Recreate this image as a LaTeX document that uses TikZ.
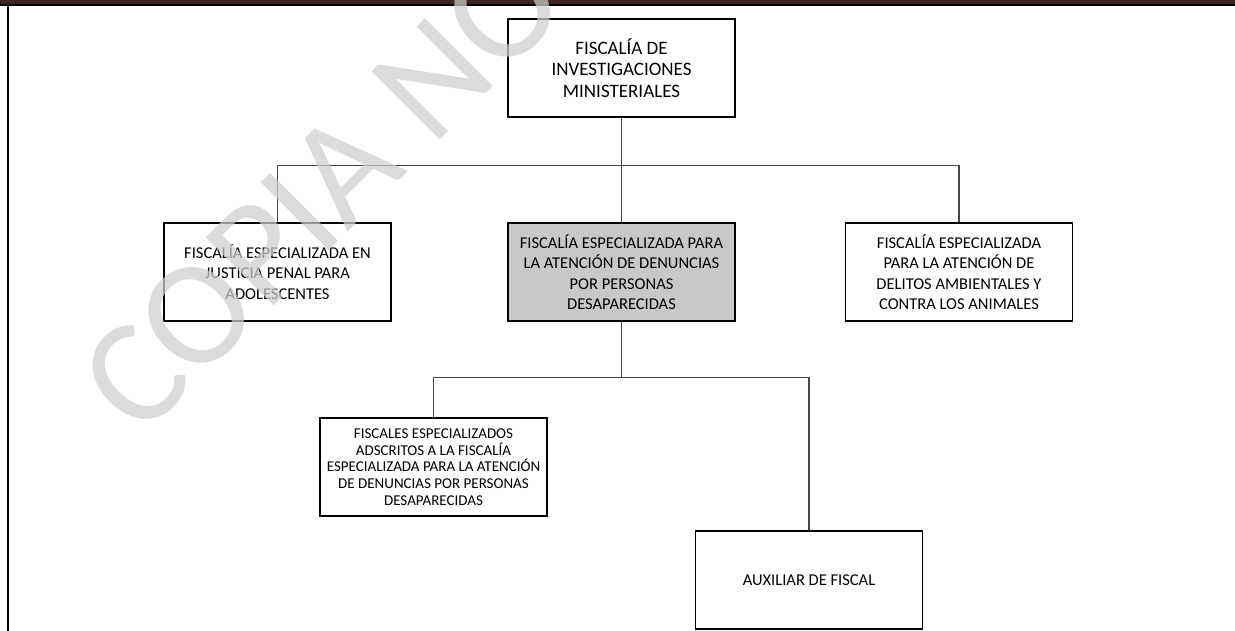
\documentclass[tikz,border=0pt]{standalone}
\usepackage{fontspec}
\setmainfont{Carlito}
\usetikzlibrary{positioning}
\definecolor{franja}{RGB}{60,38,32}
\definecolor{relleno}{RGB}{200,200,200}
\definecolor{marca}{RGB}{205,205,205}
\definecolor{conector}{RGB}{70,70,70}

\begin{document}
\begin{tikzpicture}[x=1pt,y=-1pt,on grid,
   caja/.style={draw,line width=1.2pt,minimum width=227pt,minimum height=98pt,
     align=center,inner sep=2pt,font=\fontsize{16.5}{20.5}\selectfont},
   linea/.style={draw=conector,line width=1.2pt}]
   \useasboundingbox (0,0) rectangle (1235,631);
   \fill[franja] (0,0) rectangle (1235,4.5);
   \fill[black] (0,4.5) rectangle (1235,6.5);
   \fill[black] (6.5,6.5) rectangle (8.5,631);

   \node[caja,font=\fontsize{19}{21.5}\selectfont] (jefe) at (621.5,68)
      {FISCALÍA DE\\INVESTIGACIONES\\MINISTERIALES};
   \node[caja,fill=relleno] (desap) [below=204pt of jefe]
      {FISCALÍA ESPECIALIZADA PARA\\LA ATENCIÓN DE DENUNCIAS\\POR PERSONAS\\DESAPARECIDAS};
   \node[caja] (adol)     [left=344pt of desap]
      {FISCALÍA ESPECIALIZADA EN\\JUSTICIA PENAL PARA\\ADOLESCENTES};
   \node[caja] (ambient)  [right=337.5pt of desap]
      {FISCALÍA ESPECIALIZADA\\PARA LA ATENCIÓN DE\\DELITOS AMBIENTALES Y\\CONTRA LOS ANIMALES};
   \node[caja,font=\fontsize{15}{16.7}\selectfont] (fiscales) [below left=195pt and 188pt of desap]
      {FISCALES ESPECIALIZADOS\\ADSCRITOS A LA FISCALÍA\\ESPECIALIZADA PARA LA ATENCIÓN\\DE DENUNCIAS POR PERSONAS\\DESAPARECIDAS};
   \node[caja] (aux)      [below right=308pt and 187.5pt of desap] {AUXILIAR DE FISCAL};

   \coordinate[below=48pt of jefe.south] (bus1);
   \coordinate[below=56pt of desap.south] (bus2);

   \path[linea]
    (jefe)  edge (desap)
    (adol.north) edge[to path={|- (bus1) -| (\tikztotarget)}] (ambient.north)
    (desap) edge (bus2)
    (fiscales.north) edge[to path={|- (bus2) -| (\tikztotarget)}] (aux.north);

   \node[text=marca,text opacity=0.73,rotate=45,anchor=base west,inner sep=0pt,
      font=\fontsize{150}{150}\selectfont] (marca) at (140,440) {COPIA NO};
\end{tikzpicture}
\end{document}
